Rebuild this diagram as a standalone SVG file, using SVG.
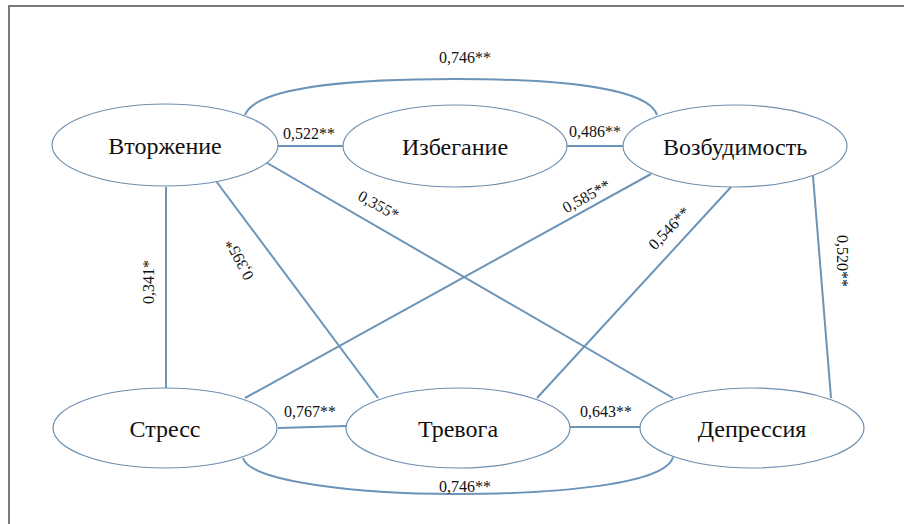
<svg xmlns="http://www.w3.org/2000/svg" width="904" height="524" viewBox="0 0 904 524">
<style>
.node ellipse{fill:#ffffff;stroke:#6f8fae;stroke-width:1.2}
.node text{font-size:24px;fill:#111;text-anchor:middle;dominant-baseline:central}
.edges line,.edges path{stroke:#6b94b8;stroke-width:2;fill:none}
.lbl{font-size:16px;fill:#111;text-anchor:middle}
</style>
<rect width="904" height="524" fill="#ffffff"/>
<path d="M9,524 V6 H904" fill="none" stroke="#7a7a7a" stroke-width="2"/>
<g class="edges">
<path d="M245,115 C256,86 360,79 455,79 C560,79 648,88 657,115"/>
<path d="M243,458 C250,482 360,494 455,494 C560,494 666,484 673,457"/>
<line x1="278" y1="146" x2="343" y2="146"/>
<line x1="567" y1="146" x2="623" y2="146"/>
<line x1="278" y1="428" x2="346" y2="426"/>
<line x1="570" y1="427" x2="640" y2="427"/>
<line x1="166" y1="187" x2="166" y2="388"/>
<line x1="216" y1="181" x2="378" y2="398"/>
<line x1="262" y1="160" x2="673" y2="398"/>
<line x1="651" y1="174" x2="245" y2="398"/>
<line x1="731" y1="187" x2="537" y2="398"/>
<line x1="813" y1="176" x2="831" y2="398"/>
</g>
<g font-family="Liberation Serif, Times New Roman, serif">
<g id="n-vtorzhenie" class="node"><ellipse cx="165" cy="145" rx="113" ry="41"/><text x="165" y="146">Вторжение</text></g>
<g id="n-izbeganie" class="node"><ellipse cx="455" cy="146" rx="112" ry="41"/><text x="455" y="147">Избегание</text></g>
<g id="n-vozbudimost" class="node"><ellipse cx="735" cy="146" rx="112" ry="41"/><text x="735" y="147">Возбудимость</text></g>
<g id="n-stress" class="node"><ellipse cx="165" cy="428" rx="112" ry="40"/><text x="165" y="429">Стресс</text></g>
<g id="n-trevoga" class="node"><ellipse cx="458" cy="428" rx="112" ry="40"/><text x="458" y="429">Тревога</text></g>
<g id="n-depressiya" class="node"><ellipse cx="752" cy="428" rx="112" ry="40"/><text x="752" y="429">Депрессия</text></g>
<g id="labels">
<text class="lbl" x="465" y="63">0,746**</text>
<text class="lbl" x="309" y="139">0,522**</text>
<text class="lbl" x="595" y="137">0,486**</text>
<text class="lbl" x="310" y="417">0,767**</text>
<text class="lbl" x="606" y="417">0,643**</text>
<text class="lbl" x="465" y="492">0,746**</text>
<text class="lbl" transform="translate(376,210) rotate(29)">0,355*</text>
<text class="lbl" transform="translate(589,201) rotate(-29)">0,585**</text>
<text class="lbl" transform="translate(673,232) rotate(-46)">0,546**</text>
<text class="lbl" transform="translate(837,261) rotate(90)">0,520**</text>
<text class="lbl" transform="translate(154,282) rotate(-90)">0,341*</text>
<text class="lbl" transform="translate(244,257) rotate(-118)">0,395*</text>
</g>
</g>
</svg>
